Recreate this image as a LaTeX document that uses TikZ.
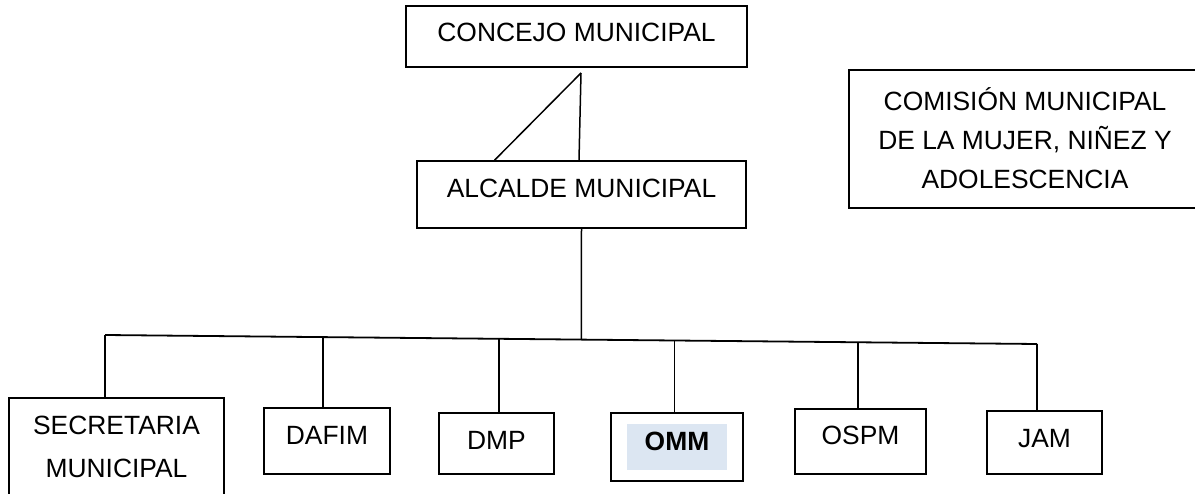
\documentclass[tikz,border=0pt]{standalone}
\usepackage{fontspec}
\setmainfont{Liberation Sans}
\usetikzlibrary{calc}
\definecolor{ommfill}{RGB}{220,230,242}
\newcommand\stackedtext[3]{\vbox{\hsize=#1\fontsize{26.4}{#2}\selectfont\centering\noindent #3\par}}
\tikzset{
  orgbox/.style={draw, line width=1.6pt, inner sep=0pt, font=\fontsize{26.4}{31.7}\selectfont},
  conn/.style={line width=1.5pt},
  bus/.style={line width=1.8pt}
}
\begin{document}
\begin{tikzpicture}[x=1pt,y=-1pt]
\useasboundingbox (0,0) rectangle (1195,494);
\clip (0,0) rectangle (1195,494);
% highlight behind OMM
\fill[ommfill] (627,424) rectangle (727,470);
% boxes
\node[orgbox, minimum width=341pt, text height=35.5pt, text depth=25.5pt] (concejo) at (576.5,36.5) {CONCEJO MUNICIPAL};
\node[orgbox, minimum width=329pt, text height=36.5pt, text depth=30.5pt] (alcalde) at (581.5,194.5) {ALCALDE MUNICIPAL};
\node[orgbox, text height=118.5pt, text depth=19.5pt] (comision) at (1025,139)
  {\stackedtext{352pt}{39pt}{COMISIÓN MUNICIPAL\\DE LA MUJER, NIÑEZ Y\\ADOLESCENCIA}};
\node[orgbox, text height=79pt, text depth=53pt] (sec) at (116.5,464)
  {\stackedtext{215pt}{42.5pt}{SECRETARIA\\MUNICIPAL}};
\node[orgbox, minimum width=126pt, text height=36.5pt, text depth=29.5pt] (dafim) at (327,441) {DAFIM};
\node[orgbox, minimum width=115pt, text height=36.5pt, text depth=24.5pt] (dmp) at (496.5,443.5) {DMP};
\node[orgbox, minimum width=132pt, text height=37.5pt, text depth=30.5pt] (omm) at (677,447) {\bfseries OMM};
\node[orgbox, minimum width=131pt, text height=35.5pt, text depth=29.5pt] (ospm) at (860.5,441.5) {OSPM};
\node[orgbox, minimum width=115pt, text height=36pt, text depth=27pt] (jam) at (1044.5,442.5) {JAM};
% connectors
\coordinate (apex) at (581,73);
\draw[conn] (apex) -- ($(alcalde.north)+(-2.5,0)$);
\draw[conn] (apex) -- ($(alcalde.north west)!0.237!(alcalde.north east)$);
\coordinate (busL) at (105,335);
\coordinate (busR) at (1037,344);
\draw[bus] (busL) -- (busR);
\coordinate (jalc) at ($(busL)!0.511!(busR)$);
\coordinate (jdafim) at ($(busL)!0.234!(busR)$);
\coordinate (jdmp) at ($(busL)!0.423!(busR)$);
\coordinate (jomm) at ($(busL)!0.611!(busR)$);
\coordinate (jospm) at ($(busL)!0.808!(busR)$);
\draw[conn] (alcalde.south) -- (jalc);
\draw[conn] (busL) -- (busL |- sec.north);
\draw[conn] (jdafim) -- (jdafim |- dafim.north);
\draw[conn] (jdmp) -- (jdmp |- dmp.north);
\draw[conn] (jomm) -- (jomm |- omm.north);
\draw[conn] (jospm) -- (jospm |- ospm.north);
\draw[conn] (busR) -- (busR |- jam.north);
\end{tikzpicture}
\end{document}
